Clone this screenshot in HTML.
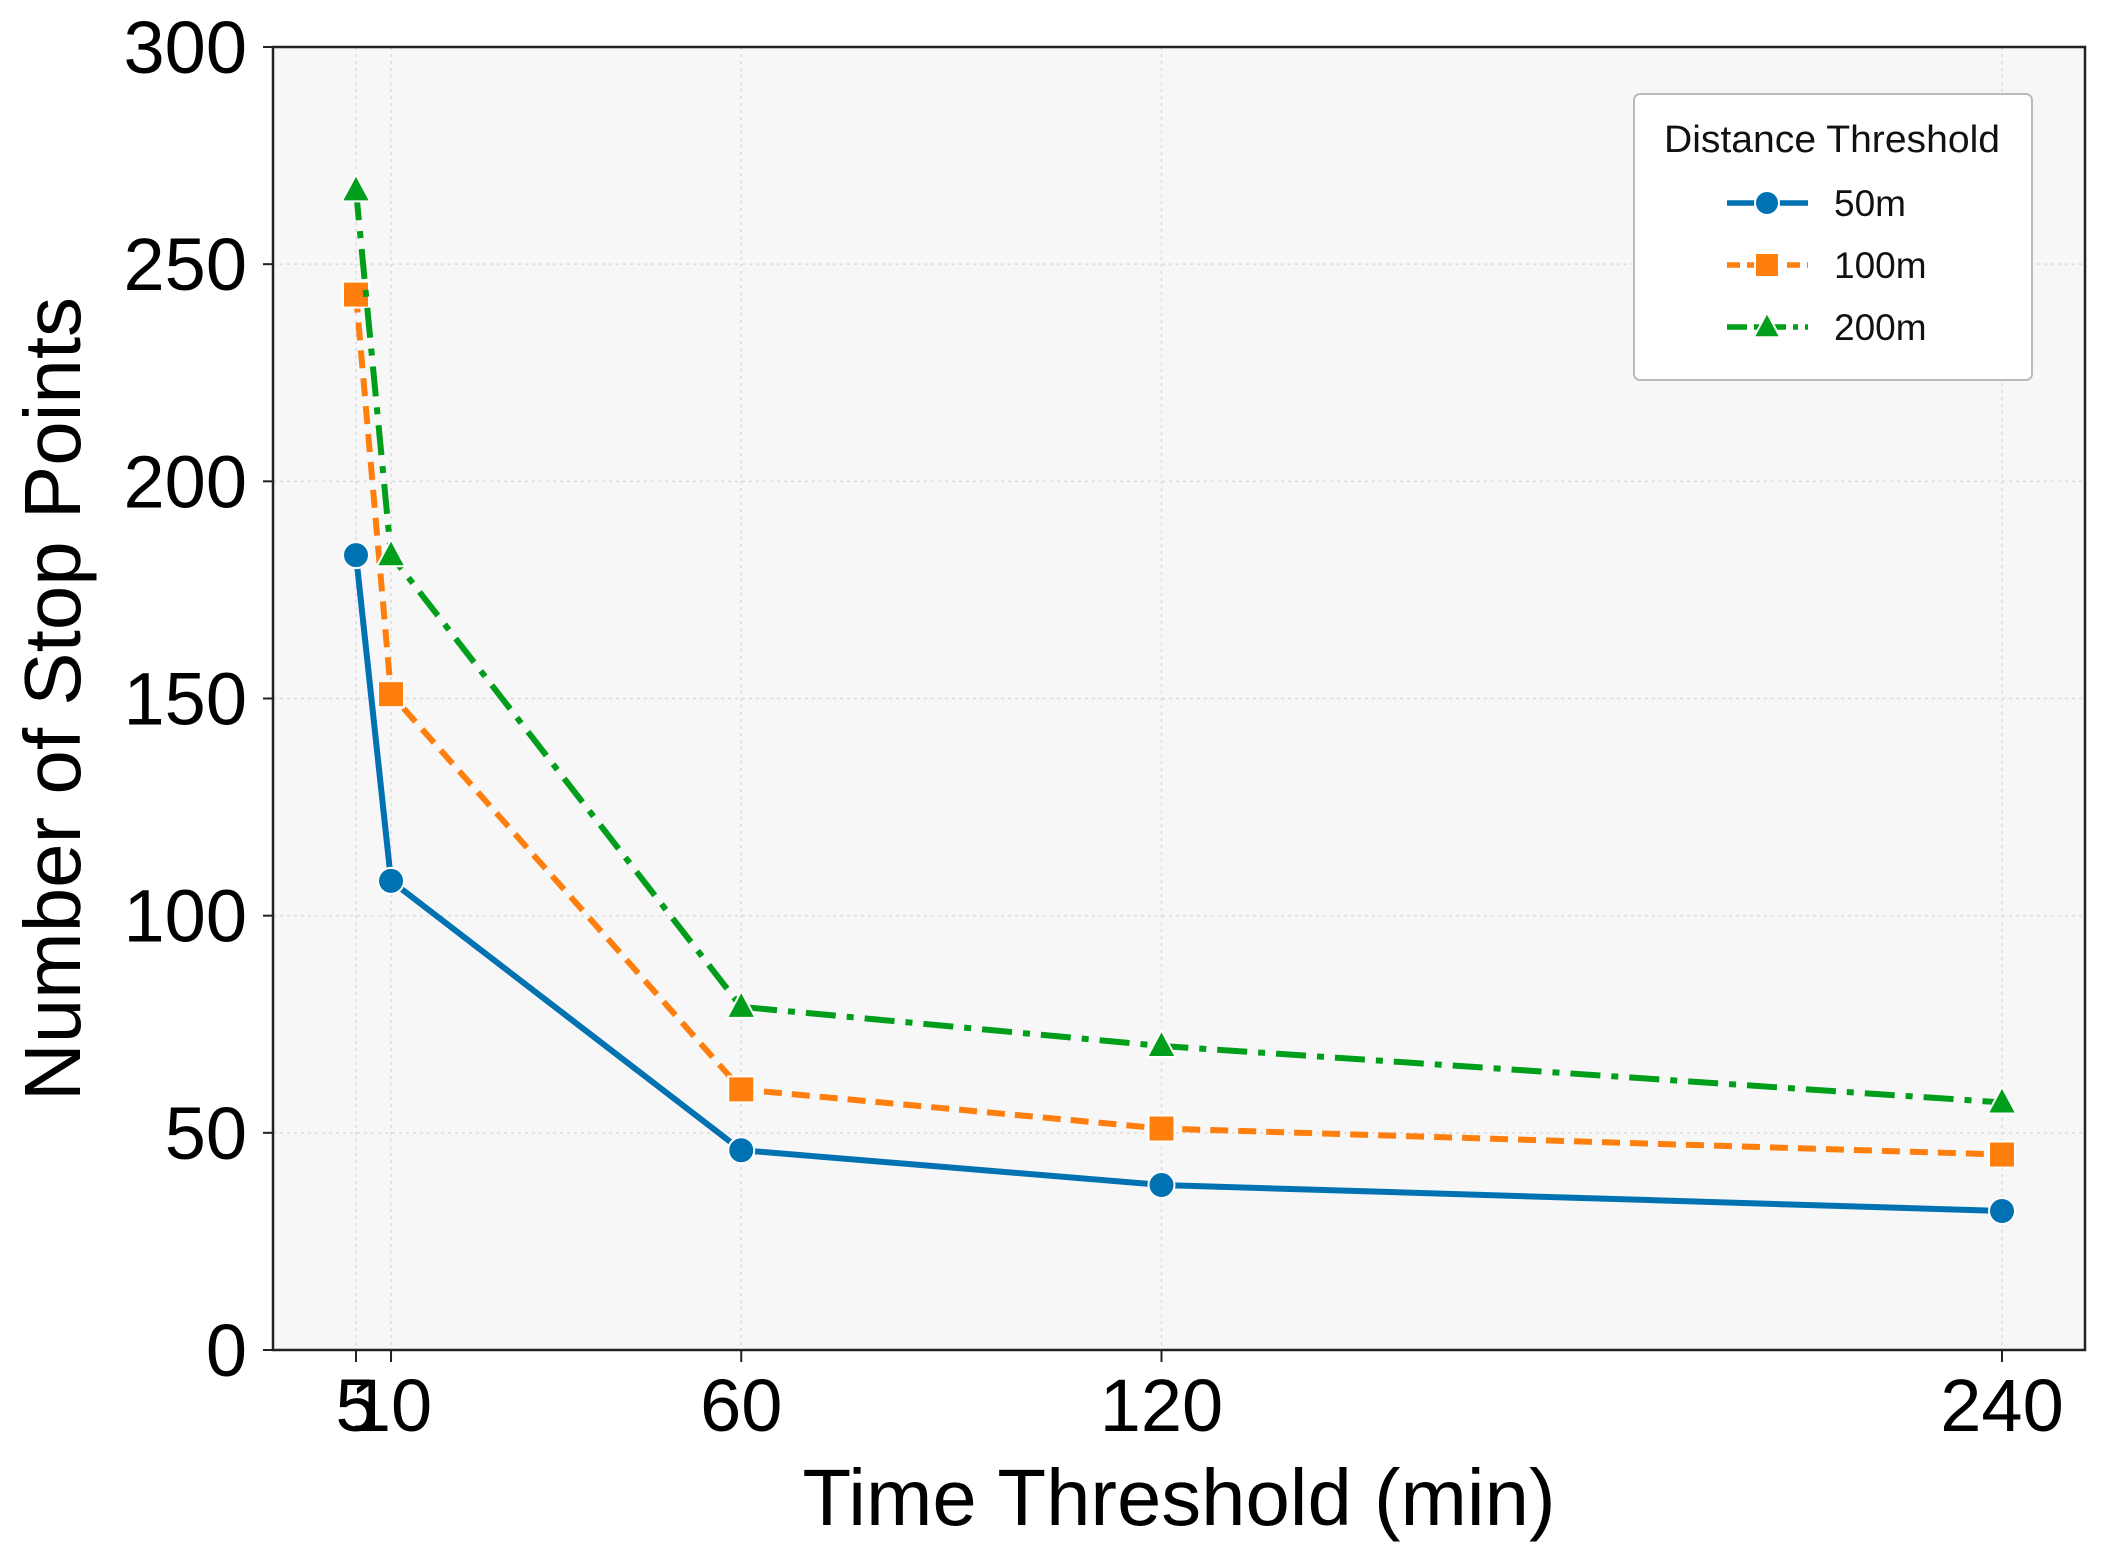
<!DOCTYPE html>
<html><head><meta charset="utf-8"><style>
html,body{margin:0;padding:0;background:#fff;}
svg{display:block;font-family:"Liberation Sans",sans-serif;}
</style></head><body>
<svg id="chart" width="2107" height="1561" viewBox="0 0 2107 1561">
<rect x="273" y="47" width="1812" height="1303" fill="#f7f7f7"/>
<g id="grid"></g>
<g id="series"></g>
<rect x="273" y="47" width="1812" height="1303" fill="none" stroke="#222" stroke-width="2.5"/>
<g id="ticks"></g>
<text x="1179" y="1525" font-size="80" text-anchor="middle" textLength="753" lengthAdjust="spacingAndGlyphs" fill="#000">Time Threshold (min)</text>
<text transform="translate(80,699) rotate(-90)" font-size="80" text-anchor="middle" textLength="804" lengthAdjust="spacingAndGlyphs" fill="#000">Number of Stop Points</text>
<g>
<rect x="1634" y="94" width="398" height="286" rx="6" fill="#fff" stroke="#bbb" stroke-width="2"/>
<text x="1832" y="152" font-size="38" text-anchor="middle" textLength="336" lengthAdjust="spacingAndGlyphs" fill="#111">Distance Threshold</text>
<g id="legend-items"></g>
</g>
</svg>
<script>
const categories = [5, 10, 60, 120, 240];
const xTicks = ["5", "10", "60", "120", "240"];
const yTicks = [0, 50, 100, 150, 200, 250, 300];
const series50 = [183, 108, 46, 38, 32];
const series100 = [243, 151, 60, 51, 45];
const series200 = [267, 183, 79, 70, 57];
const seriesNames = ["50m", "100m", "200m"];

const NS = "http://www.w3.org/2000/svg";
const L = 273, R = 2085, T = 47, B = 1350;
const X0 = 356, X1 = 2002;
function xs(v){ return X0 + (v - 5) / (240 - 5) * (X1 - X0); }
function ys(v){ return B - v / 300 * (B - T); }
function mk(tag, attrs, parent){ const e = document.createElementNS(NS, tag); for (const k in attrs) e.setAttribute(k, attrs[k]); parent.appendChild(e); return e; }

const grid = document.getElementById("grid");
const ticks = document.getElementById("ticks");
yTicks.forEach(v => {
  const y = ys(v);
  if (v > 0 && v < 300) {
    const g = mk("line", {x1:L, x2:R, y1:y, y2:y, stroke:"#dcdcdc", "stroke-width":1.5, "stroke-dasharray":"3,4"}, grid);
    
    
  }
  const t = mk("line", {x1:L-10, x2:L, y1:y, y2:y, stroke:"#222", "stroke-width":2}, ticks);
  
  
  const lb = mk("text", {x:L-26, y:y+26, "font-size":74, "text-anchor":"end", fill:"#000"}, ticks);
  lb.textContent = v;
  
  
});
categories.forEach((c, i) => {
  const x = xs(c);
  const g = mk("line", {x1:x, x2:x, y1:T, y2:B, stroke:"#dcdcdc", "stroke-width":1.5, "stroke-dasharray":"3,4"}, grid);
  
  
  const t = mk("line", {x1:x, x2:x, y1:B, y2:B+12, stroke:"#222", "stroke-width":2}, ticks);
  
  
  const lb = mk("text", {x:x, y:1431, "font-size":74, "text-anchor":"middle", fill:"#000"}, ticks);
  lb.textContent = xTicks[i];
  
  
});

const styles = [
  {vals:series50, color:"#0072b2", dash:"none", marker:"circle"},
  {vals:series100, color:"#ff7f0e", dash:"18,10", marker:"square"},
  {vals:series200, color:"#009e1a", dash:"30,11,7,11", marker:"triangle"}
];
function marker(type, x, y, color, parent, s){
  let e;
  if (type === "circle") e = mk("circle", {cx:x, cy:y, r:s, fill:color, stroke:"#fff", "stroke-width":2}, parent);
  else if (type === "square") e = mk("rect", {x:x-s, y:y-s, width:2*s, height:2*s, fill:color, stroke:"#fff", "stroke-width":2}, parent);
  else e = mk("polygon", {points:`${x},${y-s*1.2} ${x+s*1.1},${y+s*0.85} ${x-s*1.1},${y+s*0.85}`, fill:color, stroke:"#fff", "stroke-width":2}, parent);
  return e;
}
const sg = document.getElementById("series");
styles.forEach((st, si) => {
  const pts = st.vals.map((v, i) => xs(categories[i]) + "," + ys(v)).join(" ");
  const pl = mk("polyline", {points:pts, fill:"none", stroke:st.color, "stroke-width":6, "stroke-dasharray":st.dash}, sg);
  
  
  st.vals.forEach((v, i) => {
    const m = marker(st.marker, xs(categories[i]), ys(v), st.color, sg, 13);
    
    
  });
});
const lg = document.getElementById("legend-items");
const ly = [203, 265, 327];
styles.forEach((st, si) => {
  const l = mk("line", {x1:1727, x2:1808, y1:ly[si], y2:ly[si], stroke:st.color, "stroke-width":5.5, "stroke-dasharray":st.dash === "none" ? "none" : (si === 1 ? "13,7" : "20,7,5,7")}, lg);
  
  
  const m = marker(st.marker, 1767, ly[si], st.color, lg, 12);
  
  
  const t = mk("text", {x:1834, y:ly[si] + 13, "font-size":37, fill:"#111"}, lg);
  t.textContent = seriesNames[si];
  
  
});
</script>
</body></html>
